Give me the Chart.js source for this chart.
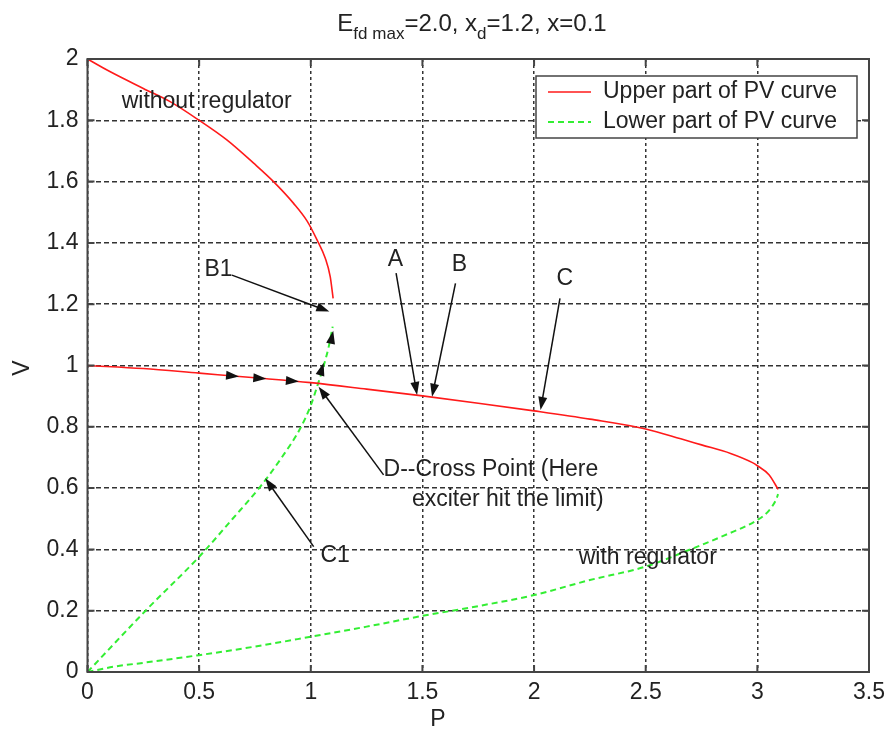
<!DOCTYPE html>
<html>
<head>
<meta charset="utf-8">
<script src="https://cdn.jsdelivr.net/npm/chart.js@4"></script>
<style>
  html, body { margin: 0; padding: 0; background: #fff; }
  #wrap { width: 887px; height: 736px; }
</style>
</head>
<body>
<div id="wrap"><canvas id="c" width="887" height="736"></canvas></div>
<script>
// ---- data ----
const xTicks = [0, 0.5, 1, 1.5, 2, 2.5, 3, 3.5];
const yTicks = [0, 0.2, 0.4, 0.6, 0.8, 1, 1.2, 1.4, 1.6, 1.8, 2];

// without regulator, upper branch
const upperNoRegP = [0, 0.10, 0.25, 0.37, 0.50, 0.624, 0.744, 0.833, 0.923, 0.983, 1.028, 1.065, 1.087, 1.10];
const upperNoRegV = [2.0, 1.959, 1.904, 1.861, 1.80, 1.736, 1.66, 1.60, 1.529, 1.472, 1.41, 1.35, 1.29, 1.219];
// without regulator, lower branch
const lowerNoRegP = [0, 0.26, 0.50, 0.65, 0.774, 0.87, 0.953, 1.0, 1.03, 1.06, 1.08, 1.098];
const lowerNoRegV = [0, 0.20, 0.376, 0.50, 0.605, 0.70, 0.795, 0.87, 0.935, 1.005, 1.06, 1.127];
// with regulator, upper branch
const upperRegP = [0, 0.25, 0.50, 0.75, 1.0, 1.25, 1.5, 1.75, 2.0, 2.25, 2.5, 2.657, 2.75, 2.88, 2.978, 3.0, 3.053, 3.093];
const upperRegV = [1.0, 0.99, 0.975, 0.96, 0.944, 0.923, 0.901, 0.877, 0.852, 0.825, 0.793, 0.761, 0.741, 0.713, 0.683, 0.673, 0.643, 0.596];
// with regulator, lower branch
const lowerRegP = [0, 0.115, 0.25, 0.50, 0.75, 1.0, 1.25, 1.5, 1.75, 2.0, 2.25, 2.5, 2.7, 2.85, 3.0, 3.05, 3.083, 3.093];
const lowerRegV = [0, 0.017, 0.03, 0.055, 0.083, 0.115, 0.148, 0.183, 0.215, 0.251, 0.30, 0.344, 0.40, 0.445, 0.496, 0.525, 0.561, 0.58];

const seriesLabels = ['Upper part of PV curve', 'Lower part of PV curve'];

// annotation arrows: [tailP, tailV, tipP, tipV]
const arrowNames = ['A', 'B', 'C', 'B1', 'D', 'C1'];
const arrowTailP = [1.382, 1.648, 2.116, 0.647, 1.326, 1.013];
const arrowTailV = [1.301, 1.268, 1.219, 1.295, 0.643, 0.409];
const arrowTipP  = [1.476, 1.543, 2.029, 1.083, 1.035, 0.796];
const arrowTipV  = [0.904, 0.898, 0.855, 1.176, 0.931, 0.632];

// small flow arrowheads on the curves: position and direction (data units)
const flowP  = [0.652, 0.774, 0.92, 1.05, 1.095];
const flowV  = [0.966, 0.958, 0.949, 0.99, 1.094];
const flowDP = [1, 1, 1, 1, 1];
const flowDV = [-0.06, -0.06, -0.06, 2.5, 3.5];

// text annotations
const noteText  = ['A', 'B', 'C', 'B1', 'without regulator', 'D--Cross Point (Here', 'exciter hit the limit)', 'C1', 'with regulator'];
const noteP     = [1.379, 1.666, 2.138, 0.587, 0.153, 1.326, 1.453, 1.043, 2.2];
const noteV     = [1.344, 1.328, 1.284, 1.312, 1.861, 0.659, 0.561, 0.380, 0.372];
const noteAlign = ['center', 'center', 'center', 'center', 'left', 'left', 'left', 'left', 'left'];

const xLabel = 'P';
const yLabel = 'V';

// ---- helpers ----
const FONT = '"Liberation Sans", Arial, Helvetica, sans-serif';
const FS = 23;
const RED = '#ff1a1a';
const GREEN = '#33ee33';
function pts(P, V) { return P.map((p, i) => ({ x: p, y: V[i] })); }

function arrowHead(ctx, tx, ty, ang, len, half) {
  ctx.beginPath();
  ctx.moveTo(tx, ty);
  ctx.lineTo(tx - len * Math.cos(ang) + half * Math.sin(ang), ty - len * Math.sin(ang) - half * Math.cos(ang));
  ctx.lineTo(tx - len * Math.cos(ang) - half * Math.sin(ang), ty - len * Math.sin(ang) + half * Math.cos(ang));
  ctx.closePath();
  ctx.fill();
}

const decorPlugin = {
  id: 'decor',
  afterDatasetsDraw(chart) {
    const ctx = chart.ctx;
    const xs = chart.scales.x, ys = chart.scales.y;
    const a = chart.chartArea;
    ctx.save();

    // frame
    ctx.strokeStyle = '#444';
    ctx.lineWidth = 2;
    ctx.setLineDash([]);
    ctx.strokeRect(a.left, a.top, a.right - a.left, a.bottom - a.top);

    // inward ticks on all four sides
    const tl = 7;
    ctx.beginPath();
    xTicks.forEach(v => {
      const px = xs.getPixelForValue(v);
      ctx.moveTo(px, a.bottom); ctx.lineTo(px, a.bottom - tl);
      ctx.moveTo(px, a.top); ctx.lineTo(px, a.top + tl);
    });
    yTicks.forEach(v => {
      const py = ys.getPixelForValue(v);
      ctx.moveTo(a.left, py); ctx.lineTo(a.left + tl, py);
      ctx.moveTo(a.right, py); ctx.lineTo(a.right - tl, py);
    });
    ctx.stroke();

    // annotation arrows
    ctx.strokeStyle = '#111';
    ctx.fillStyle = '#111';
    ctx.lineWidth = 1.5;
    for (let i = 0; i < arrowNames.length; i++) {
      const x0 = xs.getPixelForValue(arrowTailP[i]), y0 = ys.getPixelForValue(arrowTailV[i]);
      const x1 = xs.getPixelForValue(arrowTipP[i]), y1 = ys.getPixelForValue(arrowTipV[i]);
      const ang = Math.atan2(y1 - y0, x1 - x0);
      const len = 13;
      ctx.beginPath();
      ctx.moveTo(x0, y0);
      ctx.lineTo(x1 - (len - 2) * Math.cos(ang), y1 - (len - 2) * Math.sin(ang));
      ctx.stroke();
      arrowHead(ctx, x1, y1, ang, len, 4.5);
    }

    // flow arrowheads
    for (let i = 0; i < flowP.length; i++) {
      const x = xs.getPixelForValue(flowP[i]), y = ys.getPixelForValue(flowV[i]);
      const x2 = xs.getPixelForValue(flowP[i] + flowDP[i] * 0.01), y2 = ys.getPixelForValue(flowV[i] + flowDV[i] * 0.01);
      const ang = Math.atan2(y2 - y, x2 - x);
      arrowHead(ctx, x + 6 * Math.cos(ang), y + 6 * Math.sin(ang), ang, 13, 4.5);
    }

    // notes
    ctx.fillStyle = '#222';
    ctx.font = FS + 'px ' + FONT;
    ctx.textBaseline = 'middle';
    for (let i = 0; i < noteText.length; i++) {
      ctx.textAlign = noteAlign[i];
      ctx.fillText(noteText[i], xs.getPixelForValue(noteP[i]), ys.getPixelForValue(noteV[i]));
    }

    // legend box
    const lx = 536, ly = 76, lw = 321, lh = 62;
    ctx.fillStyle = '#fff';
    ctx.fillRect(lx, ly, lw, lh);
    ctx.strokeStyle = '#444';
    ctx.lineWidth = 1.5;
    ctx.strokeRect(lx, ly, lw, lh);
    const ds = chart.data.datasets;
    const entries = [ds[0], ds[2]];
    entries.forEach((d, k) => {
      const yy = ly + 16 + k * 30;
      ctx.strokeStyle = d.borderColor;
      ctx.lineWidth = d.borderWidth;
      ctx.setLineDash(d.borderDash || []);
      ctx.beginPath();
      ctx.moveTo(lx + 12, yy); ctx.lineTo(lx + 55, yy);
      ctx.stroke();
      ctx.setLineDash([]);
      ctx.fillStyle = '#222';
      ctx.textAlign = 'left';
      ctx.textBaseline = 'middle';
      ctx.font = FS + 'px ' + FONT;
      ctx.fillText(d.label, lx + 67, yy);
    });

    ctx.restore();
  },
  afterDraw(chart) {
    const ctx = chart.ctx;
    ctx.save();
    ctx.fillStyle = '#222';
    // axis labels
    ctx.font = FS + 'px ' + FONT;
    ctx.textAlign = 'center';
    ctx.textBaseline = 'middle';
    ctx.fillText(xLabel, 438, 720);
    ctx.translate(23, 368);
    ctx.rotate(-Math.PI / 2);
    ctx.fillText(yLabel, 0, 0);
    ctx.restore();

    // title with subscripts
    ctx.save();
    ctx.fillStyle = '#222';
    ctx.textBaseline = 'alphabetic';
    ctx.textAlign = 'left';
    const parts = [
      { t: 'E', s: 24, dy: 0 },
      { t: 'fd max', s: 17, dy: 8 },
      { t: '=2.0, x', s: 24, dy: 0 },
      { t: 'd', s: 17, dy: 8 },
      { t: '=1.2, x=0.1', s: 24, dy: 0 }
    ];
    let w = 0;
    parts.forEach(p => { ctx.font = p.s + 'px ' + FONT; p.w = ctx.measureText(p.t).width; w += p.w; });
    let x = 472 - w / 2;
    const base = 31;
    parts.forEach(p => { ctx.font = p.s + 'px ' + FONT; ctx.fillText(p.t, x, base + p.dy); x += p.w; });
    ctx.restore();
  }
};

const fmt = v => String(parseFloat(Number(v).toFixed(2)));

new Chart(document.getElementById('c'), {
  type: 'scatter',
  data: {
    datasets: [
      { label: seriesLabels[0], data: pts(upperNoRegP, upperNoRegV), showLine: true, borderColor: RED, backgroundColor: RED, borderWidth: 1.6, pointRadius: 0, cubicInterpolationMode: 'monotone' },
      { label: seriesLabels[0], data: pts(upperRegP, upperRegV), showLine: true, borderColor: RED, backgroundColor: RED, borderWidth: 1.6, pointRadius: 0, cubicInterpolationMode: 'monotone' },
      { label: seriesLabels[1], data: pts(lowerNoRegP, lowerNoRegV), showLine: true, borderColor: GREEN, backgroundColor: GREEN, borderWidth: 2, borderDash: [6, 4], pointRadius: 0, cubicInterpolationMode: 'monotone' },
      { label: seriesLabels[1], data: pts(lowerRegP, lowerRegV), showLine: true, borderColor: GREEN, backgroundColor: GREEN, borderWidth: 2, borderDash: [6, 4], pointRadius: 0, cubicInterpolationMode: 'monotone' }
    ]
  },
  options: {
    responsive: false,
    animation: false,
    devicePixelRatio: 1,
    layout: { padding: { top: 59, right: 18, left: 0, bottom: 0 } },
    plugins: { legend: { display: false }, title: { display: false }, tooltip: { enabled: false } },
    scales: {
      x: {
        type: 'linear', min: 0, max: 3.5,
        afterBuildTicks: s => { s.ticks = xTicks.map(v => ({ value: v })); },
        afterFit: s => { s.height = 64; s.paddingLeft = 0; s.paddingRight = 0; },
        ticks: { callback: fmt, font: { size: FS, family: FONT }, color: '#222', padding: 7, maxRotation: 0, autoSkip: false },
        grid: { color: '#333', lineWidth: 1.5, drawTicks: false },
        border: { display: false, dash: [3, 3] }
      },
      y: {
        type: 'linear', min: 0, max: 2,
        afterBuildTicks: s => { s.ticks = yTicks.map(v => ({ value: v })); },
        afterFit: s => { s.width = 87.5; s.paddingTop = 0; s.paddingBottom = 0; },
        ticks: { callback: fmt, font: { size: FS, family: FONT }, color: '#222', padding: 9, autoSkip: false },
        grid: { color: '#333', lineWidth: 1.5, drawTicks: false },
        border: { display: false, dash: [5, 3] }
      }
    }
  },
  plugins: [decorPlugin]
});
</script>
</body>
</html>
